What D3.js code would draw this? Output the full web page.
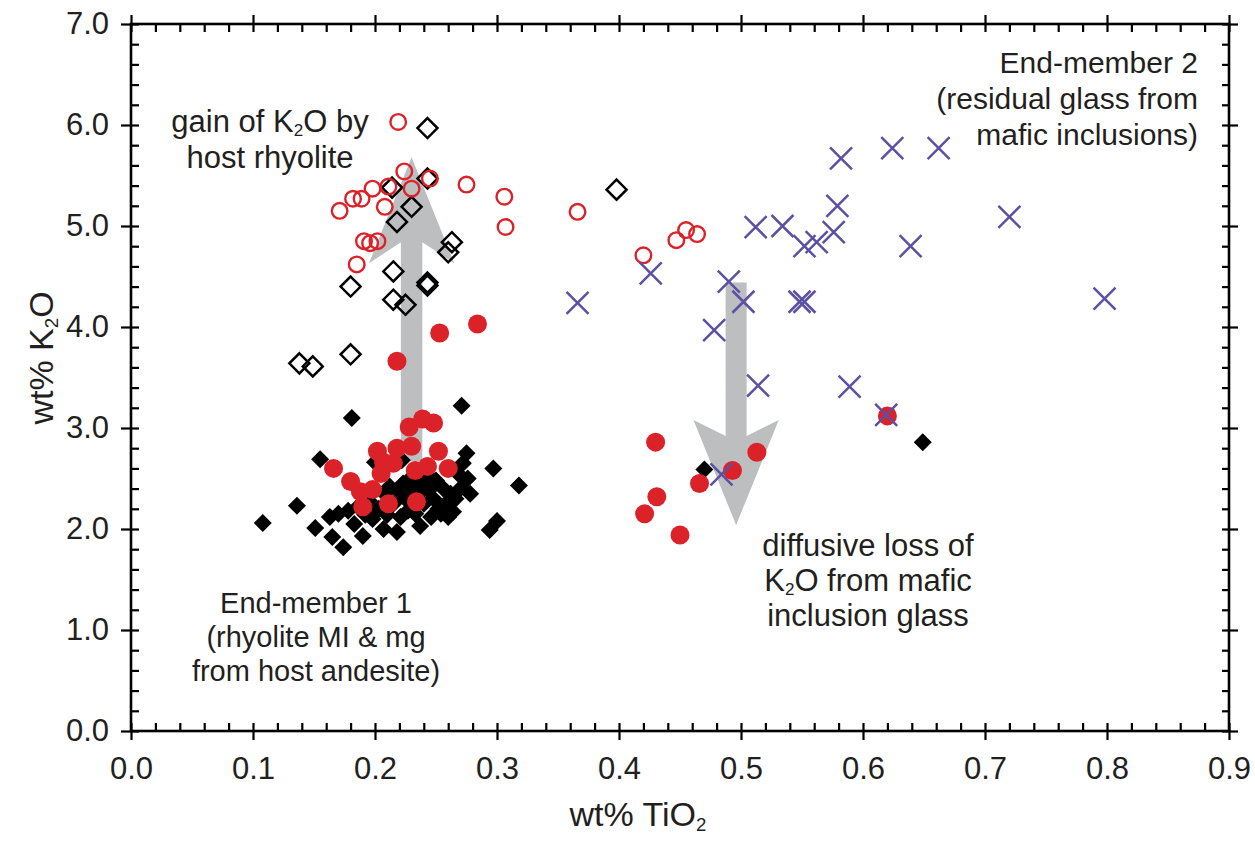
<!DOCTYPE html>
<html>
<head>
<meta charset="utf-8">
<script src="https://cdn.jsdelivr.net/npm/d3@7"></script>
<style>
  body { margin: 0; background: #fff; }
  svg text { font-family: "Liberation Sans", Arial, Helvetica, sans-serif; fill: #231f20; }
</style>
</head>
<body>
<div id="chart"></div>
<script>
// ---- data (wt% TiO2, wt% K2O) ----
var filledDiamonds = [
  [0.108,2.06],[0.136,2.23],[0.151,2.01],[0.155,2.69],[0.163,2.12],[0.165,1.92],[0.170,2.15],
  [0.174,1.82],[0.178,2.18],[0.181,3.10],[0.183,2.05],[0.186,2.22],[0.190,1.93],[0.192,2.14],
  [0.195,2.28],[0.198,2.10],[0.200,2.66],[0.203,2.20],[0.207,2.00],[0.208,2.35],[0.210,2.14],
  [0.212,2.42],[0.215,2.25],[0.218,1.97],[0.219,2.38],[0.221,2.12],[0.222,2.68],[0.223,2.45],
  [0.225,2.30],[0.227,2.18],[0.229,2.50],[0.231,2.40],[0.233,2.15],[0.235,2.35],[0.237,2.03],
  [0.238,2.45],[0.240,2.25],[0.242,2.55],[0.244,2.38],[0.246,2.12],[0.248,2.30],[0.250,2.48],
  [0.252,2.20],[0.254,2.15],[0.256,2.40],[0.258,2.25],[0.260,2.12],[0.262,2.35],[0.264,2.17],
  [0.266,2.30],[0.268,2.55],[0.270,2.40],[0.271,3.22],[0.272,2.65],[0.275,2.75],[0.276,2.50],
  [0.278,2.35],[0.294,1.99],[0.297,2.60],[0.300,2.08],[0.318,2.43],[0.470,2.59],[0.649,2.86]
];
var openDiamonds = [
  [0.243,5.97],[0.214,5.38],[0.243,5.47],[0.230,5.19],[0.218,5.04],[0.263,4.84],[0.260,4.74],
  [0.215,4.55],[0.243,4.44],[0.243,4.41],[0.180,4.40],[0.215,4.27],[0.225,4.22],[0.398,5.36],
  [0.138,3.64],[0.149,3.61],[0.180,3.73]
];
var filledCircles = [
  [0.253,3.94],[0.284,4.03],[0.218,3.66],[0.228,3.01],[0.239,3.09],[0.248,3.05],[0.202,2.77],
  [0.218,2.80],[0.230,2.82],[0.252,2.77],[0.166,2.60],[0.207,2.66],[0.215,2.65],[0.205,2.55],
  [0.233,2.58],[0.243,2.62],[0.260,2.60],[0.180,2.47],[0.198,2.39],[0.188,2.37],[0.190,2.22],
  [0.211,2.25],[0.234,2.27],
  [0.430,2.86],[0.431,2.32],[0.421,2.15],[0.450,1.94],[0.466,2.45],[0.493,2.58],[0.513,2.76],
  [0.620,3.12]
];
var openCircles = [
  [0.219,6.03],[0.224,5.54],[0.171,5.15],[0.182,5.27],[0.189,5.27],[0.198,5.37],[0.211,5.39],
  [0.230,5.37],[0.208,5.19],[0.245,5.47],[0.275,5.41],[0.191,4.85],[0.196,4.83],[0.202,4.85],
  [0.185,4.62],[0.306,5.29],[0.307,4.99],[0.366,5.14],[0.420,4.71],[0.447,4.86],[0.455,4.96],
  [0.464,4.92]
];
var crosses = [
  [0.582,5.67],[0.624,5.77],[0.662,5.77],[0.579,5.20],[0.720,5.09],[0.512,4.99],[0.534,5.00],
  [0.552,4.80],[0.562,4.84],[0.576,4.94],[0.639,4.80],[0.426,4.53],[0.366,4.24],[0.490,4.45],
  [0.502,4.25],[0.548,4.25],[0.552,4.25],[0.798,4.28],[0.478,3.97],[0.514,3.42],[0.589,3.41],
  [0.619,3.13],[0.484,2.54]
];

var xMajor = d3.range(0, 0.901, 0.1);
var xMinor = d3.range(0, 0.901, 0.02);
var yMajor = d3.range(0, 7.01, 1);
var yMinor = d3.range(0, 7.01, 0.2);

// arrows in data units
var upArrow = { x: 0.230, base: 2.67, tip: 5.68, barb: 4.63, joint: 4.84, half: 0.0088, wing: 0.035 };
var downArrow = { x: 0.496, base: 4.44, tip: 2.04, barb: 3.08, joint: 2.92, half: 0.0086, wing: 0.035 };

var W = 1255, H = 843;
var x = d3.scaleLinear().domain([0, 0.9]).range([131, 1229]);
var y = d3.scaleLinear().domain([0, 7]).range([731, 24]);

var svg = d3.select("#chart").append("svg").attr("width", W).attr("height", H);

var RED = "#dc2229", BLUE = "#5b51a3", GREY = "#bcbec0";

// arrows (under the points)
function arrowPts(a) {
  return [
    [a.x - a.half, a.base], [a.x - a.half, a.joint], [a.x - a.wing, a.barb], [a.x, a.tip],
    [a.x + a.wing, a.barb], [a.x + a.half, a.joint], [a.x + a.half, a.base]
  ].map(function(p) { return [x(p[0]), y(p[1])]; });
}
svg.append("g").selectAll("polygon").data([upArrow, downArrow]).enter().append("polygon")
  .attr("points", function(d) { return arrowPts(d).join(" "); })
  .attr("fill", GREY);

function diamond(s) { return "M0," + (-s) + "L" + s + ",0L0," + s + "L" + (-s) + ",0Z"; }

// filled diamonds
svg.append("g").selectAll("path").data(filledDiamonds).enter().append("path")
  .attr("d", diamond(9))
  .attr("transform", function(d) { return "translate(" + x(d[0]) + "," + y(d[1]) + ")"; })
  .attr("fill", "#000");

// open diamonds
svg.append("g").selectAll("path").data(openDiamonds).enter().append("path")
  .attr("d", diamond(10))
  .attr("transform", function(d) { return "translate(" + x(d[0]) + "," + y(d[1]) + ")"; })
  .attr("fill", "none").attr("stroke", "#000").attr("stroke-width", 2.5);

// filled circles
svg.append("g").selectAll("circle").data(filledCircles).enter().append("circle")
  .attr("cx", function(d) { return x(d[0]); })
  .attr("cy", function(d) { return y(d[1]); })
  .attr("r", 9.5).attr("fill", RED);

// open circles
svg.append("g").selectAll("circle").data(openCircles).enter().append("circle")
  .attr("cx", function(d) { return x(d[0]); })
  .attr("cy", function(d) { return y(d[1]); })
  .attr("r", 7.8).attr("fill", "none").attr("stroke", RED).attr("stroke-width", 2.4);

// crosses
svg.append("g").selectAll("path").data(crosses).enter().append("path")
  .attr("d", "M-11,-11L11,11M-11,11L11,-11")
  .attr("transform", function(d) { return "translate(" + x(d[0]) + "," + y(d[1]) + ")"; })
  .attr("fill", "none").attr("stroke", BLUE).attr("stroke-width", 2.5);

// ---- axes ----
var fmt = d3.format(".1f");
function styleAxis(g) {
  g.select(".domain").remove();
  g.selectAll("line").attr("stroke", "#000").attr("stroke-width", 2.2);
  g.selectAll("text").attr("font-size", 31).attr("fill", "#231f20")
    .attr("font-family", "'Liberation Sans', Arial, sans-serif");
}
// bottom
svg.append("g").attr("transform", "translate(0,731)")
  .call(d3.axisBottom(x).tickValues(xMajor).tickSize(9).tickPadding(17).tickFormat(fmt)).call(styleAxis);
svg.append("g").attr("transform", "translate(0,731)")
  .call(d3.axisTop(x).tickValues(xMinor).tickSize(8).tickFormat("")).call(styleAxis);
// top
svg.append("g").attr("transform", "translate(0,24)")
  .call(d3.axisTop(x).tickValues(xMajor).tickSize(9).tickFormat("")).call(styleAxis);
svg.append("g").attr("transform", "translate(0,24)")
  .call(d3.axisBottom(x).tickValues(xMinor).tickSize(8).tickFormat("")).call(styleAxis);
// left
svg.append("g").attr("transform", "translate(131,0)")
  .call(d3.axisLeft(y).tickValues(yMajor).tickSize(10).tickPadding(12).tickFormat(fmt)).call(styleAxis);
svg.append("g").attr("transform", "translate(131,0)")
  .call(d3.axisRight(y).tickValues(yMinor).tickSize(8).tickFormat("")).call(styleAxis);
// right
svg.append("g").attr("transform", "translate(1229,0)")
  .call(d3.axisRight(y).tickValues(yMajor).tickSize(9).tickFormat("")).call(styleAxis);
svg.append("g").attr("transform", "translate(1229,0)")
  .call(d3.axisLeft(y).tickValues(yMinor).tickSize(7).tickFormat("")).call(styleAxis);

// frame
svg.append("rect").attr("x", 131).attr("y", 24).attr("width", 1229 - 131).attr("height", 731 - 24)
  .attr("fill", "none").attr("stroke", "#000").attr("stroke-width", 2.6);

// ---- text ----
// parts: [text, isSubscript]
function richText(sel, parts, size) {
  parts.forEach(function(p) {
    var t = sel.append("tspan").text(p[0]);
    if (p[1]) t.attr("font-size", size * 0.55).attr("dy", size * 0.14);
    else if (sel.selectAll("tspan").size() > 1) t.attr("dy", -size * 0.14);
  });
}
function block(lines, px, py0, lh, anchor, size) {
  lines.forEach(function(parts, i) {
    var t = svg.append("text").attr("x", px).attr("y", py0 + i * lh)
      .attr("text-anchor", anchor).attr("font-size", size);
    richText(t, parts, size);
  });
}

block([[["gain of K"], ["2", true], ["O by"]], [["host rhyolite"]]], 270, 132, 36, "middle", 31);
block([[["End-member 2"]], [["(residual glass from"]], [["mafic inclusions)"]]], 1198, 73, 36, "end", 30);
block([[["End-member 1"]], [["(rhyolite MI & mg"]], [["from host andesite)"]]], 316, 613, 34, "middle", 29);
block([[["diffusive loss of"]], [["K"], ["2", true], ["O from mafic"]], [["inclusion glass"]]], 868, 556, 35, "middle", 31);

// axis titles
var xt = svg.append("text").attr("x", 638).attr("y", 826).attr("text-anchor", "middle").attr("font-size", 34);
richText(xt, [["wt% TiO"], ["2", true]], 34);
var yt = svg.append("text").attr("transform", "translate(53,358) rotate(-90)")
  .attr("text-anchor", "middle").attr("font-size", 34);
richText(yt, [["wt% K"], ["2", true], ["O"]], 34);
</script>
</body>
</html>
